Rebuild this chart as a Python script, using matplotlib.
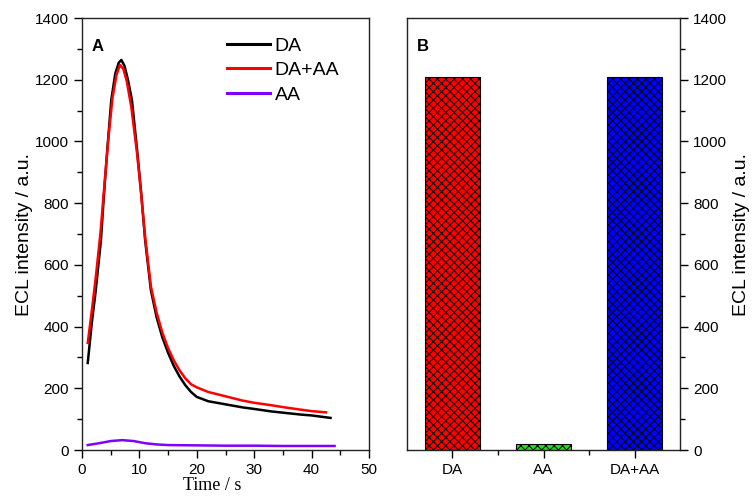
import matplotlib
matplotlib.use("Agg")
import matplotlib.pyplot as plt
from matplotlib.ticker import MultipleLocator, FixedLocator

plt.rcParams['font.family'] = ['Liberation Sans', 'DejaVu Sans']
plt.rcParams['hatch.linewidth'] = 0.7

# Panel A: ECL transients
t_da = [1.0, 1.7, 2.4, 3.3, 3.8, 4.4, 5.1, 5.8, 6.4, 6.85, 7.4, 8.0, 8.7, 9.6, 10.3, 11.0, 12.0,
        13.0, 14.0, 15.0, 16.0, 17.0, 18.0, 19.0, 20.0, 22.0, 25.0, 28.0, 30.0, 33.0, 35.0, 38.0, 40.0, 43.3]
v_da = [282, 411, 518, 680, 821, 972, 1134, 1220, 1255, 1264, 1245, 1200, 1134, 972, 835, 680, 518,
        430, 365, 315, 272, 238, 210, 188, 172, 158, 148, 138, 133, 125, 121, 115, 112, 104]

t_daaa = [1.0, 1.7, 2.4, 3.2, 4.0, 4.6, 5.3, 6.0, 6.6, 7.2, 7.8, 8.6, 9.6, 10.3, 11.0, 12.0,
          13.0, 14.0, 15.0, 16.0, 17.0, 18.0, 19.0, 20.0, 22.0, 25.0, 28.0, 30.0, 33.0, 35.0, 38.0, 40.0, 42.5]
v_daaa = [347, 450, 560, 700, 880, 1010, 1140, 1215, 1248, 1235, 1195, 1110, 960, 830, 690, 530,
          445, 380, 330, 290, 258, 232, 213, 203, 188, 174, 160, 153, 145, 139, 131, 126, 122]

t_aa = [1.0, 3.0, 5.0, 7.0, 9.0, 11.0, 13.0, 15.0, 20.0, 25.0, 30.0, 35.0, 40.0, 44.0]
v_aa = [16, 22, 29, 32, 29, 22, 18, 16, 15, 14, 14, 13, 13, 13]

# Panel B: bar chart
categories = ['DA', 'AA', 'DA+AA']
bar_values = [1210, 20, 1208]
bar_colors = ['#ff0000', '#22dd22', '#0000ff']

fig = plt.figure(figsize=(7.55, 4.99), dpi=100)
W, H = 755, 499
def box(l, r, t, b):
    return [l / W, 1 - b / H, (r - l) / W, (b - t) / H]

axA = fig.add_axes(box(82, 369, 18, 450))
axB = fig.add_axes(box(407, 680, 18, 450))

lw = 1.8
axA.plot(t_da, v_da, color='black', lw=lw, label='DA')
axA.plot(t_daaa, v_daaa, color='#ff0000', lw=lw, label='DA+AA')
axA.plot(t_aa, v_aa, color='#8000ff', lw=lw, label='AA')
axA.set_xlim(0, 50)
axA.set_ylim(0, 1400)
axA.xaxis.set_major_locator(MultipleLocator(10))
axA.xaxis.set_minor_locator(MultipleLocator(5))
axA.yaxis.set_major_locator(MultipleLocator(200))
axA.yaxis.set_minor_locator(MultipleLocator(100))
axA.tick_params(which='both', direction='out', top=False, right=False, labelsize=11)
axA.tick_params(which='major', length=6, width=1)
axA.tick_params(which='minor', length=3.5, width=1)
axA.set_ylabel('ECL intensity / a.u.', fontsize=14, labelpad=1.5)
fig.text(212 / W, 1 - 485 / H, 'Time / s', fontsize=13, family='Liberation Serif',
         ha='center', va='center')
axA.text(0.035, 0.935, 'A', transform=axA.transAxes, fontsize=12, fontweight='bold',
         ha='left', va='center')
leg = axA.legend(loc='upper left', bbox_to_anchor=((227 - 82) / 287, (450 - 37) / 432),
                 frameon=False, fontsize=14, borderpad=0, borderaxespad=0,
                 handlelength=2.2, handletextpad=0.25, labelspacing=0.36)
for ln in leg.get_lines():
    ln.set_linewidth(2.2)

x = list(range(len(categories)))
axB.bar(x, bar_values, width=0.6, color=bar_colors, edgecolor='black', linewidth=0.8, hatch='xxxx')
axB.set_xlim(-0.5, 2.5)
axB.set_ylim(0, 1400)
axB.set_xticks(x)
axB.set_xticklabels(categories)
axB.xaxis.set_minor_locator(FixedLocator([0.5, 1.5]))
axB.yaxis.set_major_locator(MultipleLocator(200))
axB.yaxis.set_minor_locator(MultipleLocator(100))
axB.yaxis.tick_right()
axB.yaxis.set_label_position('right')
axB.tick_params(which='both', direction='out', left=False, top=False, right=True, labelsize=11)
axB.tick_params(which='major', length=6, width=1)
axB.tick_params(which='minor', length=3.5, width=1)
axB.set_ylabel('ECL intensity / a.u.', fontsize=14, labelpad=4)
axB.text(0.035, 0.935, 'B', transform=axB.transAxes, fontsize=12, fontweight='bold',
         ha='left', va='center')

for ax in (axA, axB):
    for s in ax.spines.values():
        s.set_linewidth(1.0)
        s.set_color('#222222')

fig.savefig('out.png', dpi=100)
